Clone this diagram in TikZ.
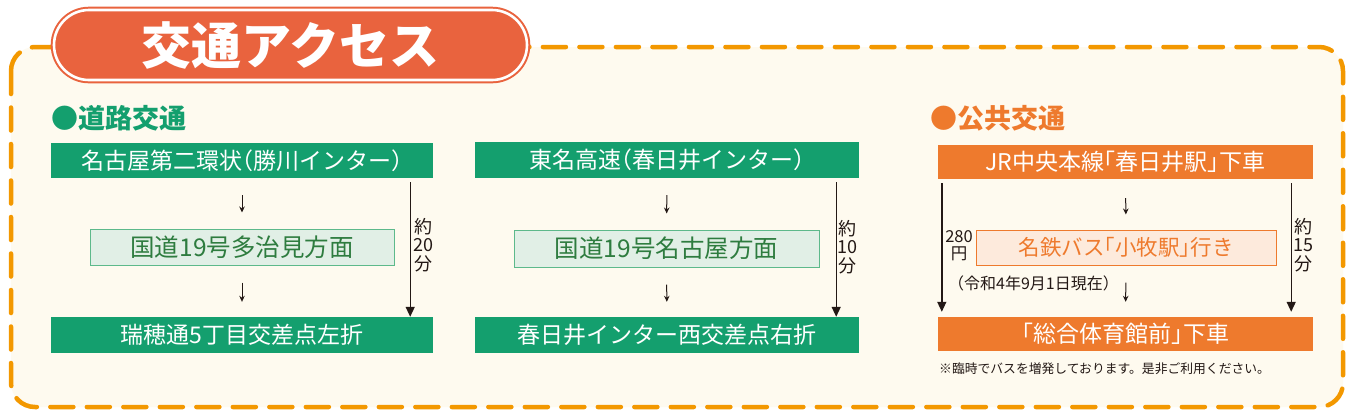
\documentclass[tikz,border=0pt]{standalone}
\usepackage{fontspec}
\usetikzlibrary{arrows.meta}
\newfontfamily\jp{Noto Sans CJK JP}
\newfontfamily\jph[RawFeature=+halt]{Noto Sans CJK JP}
\definecolor{framec}{HTML}{F39800}
\definecolor{cream}{HTML}{FEFAEF}
\definecolor{titlec}{HTML}{E9633E}
\definecolor{greenc}{HTML}{149F6E}
\definecolor{lgreen}{HTML}{E1EFE6}
\definecolor{greenb}{HTML}{5DB98B}
\definecolor{dgreen}{HTML}{2E7C3F}
\definecolor{orangec}{HTML}{EE7A2D}
\definecolor{lorange}{HTML}{FDEADC}
\definecolor{darkc}{HTML}{231815}
\tikzset{
  gbox/.style={fill=greenc, text=white, inner sep=0pt, font=\jph\fontsize{23}{26}\selectfont},
  gmid/.style={fill=lgreen, draw=greenb, line width=1pt, text=dgreen, inner sep=0pt, font=\jp\fontsize{24.5}{27}\selectfont},
  obox/.style={fill=orangec, text=white, inner sep=0pt, font=\jph\fontsize{23}{26}\selectfont},
  omid/.style={fill=lorange, draw=orangec, line width=1pt, text=orangec, inner sep=0pt, font=\jph\fontsize{21.5}{24}\selectfont},
  smallarrow/.style={draw=darkc, line width=1pt, -{Stealth[width=5.5pt,length=6pt]}},
  longarrow/.style={draw=darkc, line width=1.4pt, -{Triangle[width=9pt,length=10pt]}},
  timelbl/.style={text=darkc, inner sep=0pt, align=center, font=\jp\fontsize{18}{18.5}\selectfont},
  heading/.style={inner sep=0pt, anchor=west, font=\jp\bfseries\fontsize{27}{30}\selectfont},
}
\begin{document}
\begin{tikzpicture}[x=1pt,y=-1pt]
\useasboundingbox (0,0) rectangle (1350,416);
\fill[white] (0,0) rectangle (1350,416);
% dashed frame
\draw[framec, fill=cream, line width=4.5pt, dash pattern=on 23pt off 13.5pt, line cap=round, rounded corners=24pt] (11,47) rectangle (1343,407);
% title pill
\node[draw=titlec, double=white, double distance=2.6pt, line width=2pt, fill=titlec,
      rounded corners=35pt, minimum width=473pt, minimum height=70pt, inner sep=0pt,
      text=white, font=\jp\bfseries\fontsize{50}{56}\selectfont] (title) at (290.5,45) {交通アクセス};
% headings
\node[heading, text=greenc] (h1) at (51,118) {●道路交通};
\node[heading, text=orangec] (h2) at (930,118) {●公共交通};
% left column
\node[gbox, minimum width=382pt, minimum height=35pt] (a1) at (242,160.5) {名古屋第二環状（勝川インター）};
\node[gmid, minimum width=304pt, minimum height=36pt] (a2) at (242,247) {国道19号多治見方面};
\node[gbox, minimum width=382pt, minimum height=36pt] (a3) at (242,335) {瑞穂通5丁目交差点左折};
\draw[smallarrow, shorten <=17pt, shorten >=16pt] (a1.south) -- (a2.north);
\draw[smallarrow, shorten <=17pt, shorten >=15pt] (a2.south) -- (a3.north);
\coordinate (a1e) at ([xshift=-23pt, yshift=-4pt]a1.south east);
\coordinate (a3e) at ([xshift=-23pt]a3.north east);
\draw[longarrow] (a1e) -- (a3e);
\node[timelbl] (t1) at (423,245) {約\\20\\分};
% middle column
\node[gbox, minimum width=384pt, minimum height=36pt] (b1) at (667,160) {東名高速（春日井インター）};
\node[gmid, minimum width=305pt, minimum height=37pt] (b2) at (666.5,248.5) {国道19号名古屋方面};
\node[gbox, minimum width=384pt, minimum height=36pt] (b3) at (667,335) {春日井インター西交差点右折};
\draw[smallarrow, shorten <=17pt, shorten >=16pt] (b1.south) -- (b2.north);
\draw[smallarrow, shorten <=17pt, shorten >=15pt] (b2.south) -- (b3.north);
\coordinate (b1e) at ([xshift=-23pt, yshift=-4pt]b1.south east);
\coordinate (b3e) at ([xshift=-23pt]b3.north east);
\draw[longarrow] (b1e) -- (b3e);
\node[timelbl] (t2) at (847,247) {約\\10\\分};
% right column
\node[obox, minimum width=375pt, minimum height=34pt] (c1) at (1125.5,162) {JR中央本線「春日井駅」下車};
\node[omid, minimum width=300pt, minimum height=35pt] (c2) at (1126,247.5) {名鉄バス「小牧駅」行き};
\node[obox, minimum width=375pt, minimum height=34pt] (c3) at (1125.5,334) {「総合体育館前」下車};
\draw[smallarrow, shorten <=19pt, shorten >=15pt] (c1.south) -- (c2.north);
\draw[smallarrow, shorten <=17pt, shorten >=15pt] (c2.south) -- (c3.north);
\coordinate (c1w) at ([xshift=4pt, yshift=-4pt]c1.south west);
\coordinate (c3w) at ([xshift=4pt, yshift=5pt]c3.north west);
\draw[longarrow] (c1w) -- (c3w);
\coordinate (c1e) at ([xshift=-22pt, yshift=-4pt]c1.south east);
\coordinate (c3e) at ([xshift=-22pt, yshift=5pt]c3.north east);
\draw[longarrow] (c1e) -- (c3e);
\node[timelbl] (t3) at (1303,245) {約\\15\\分};
\node[timelbl, font=\jp\fontsize{16.5}{17}\selectfont] (fare) at (959,246) {280\\円};
\node[text=darkc, inner sep=0pt, anchor=west, font=\jp\fontsize{16}{18}\selectfont] (date) at (948,283) {（令和4年9月1日現在）};
\node[text=darkc, inner sep=0pt, anchor=west, font=\jp\fontsize{12.8}{14}\selectfont] (note) at (939,369) {※臨時でバスを増発しております。是非ご利用ください。};
\end{tikzpicture}
\end{document}
